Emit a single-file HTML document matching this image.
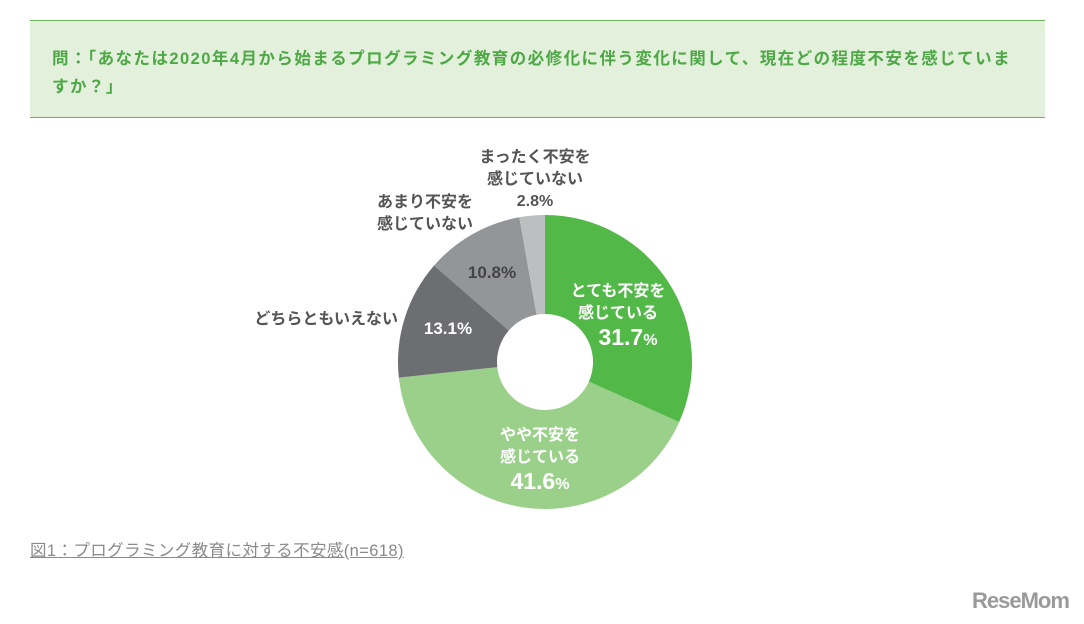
<!DOCTYPE html>
<html><head><meta charset="utf-8">
<style>
body{margin:0;width:1084px;height:624px;background:#fff;overflow:hidden;position:relative;font-family:"Liberation Sans","Noto Sans CJK JP",sans-serif;}
#hdr{position:absolute;left:30px;top:20px;width:1015px;height:96px;background:#e2f0dc;border-top:1px solid #6cb35f;border-bottom:1px solid #6cb35f;}
#q{position:absolute;left:22px;top:24px;width:990px;color:#4ea845;font-weight:bold;font-size:16.5px;letter-spacing:1.45px;line-height:28px;white-space:nowrap;}
#cap{position:absolute;left:30px;top:537px;color:#8a8a8a;font-size:16.5px;letter-spacing:0.4px;text-decoration:underline;}
#logo{position:absolute;left:972px;top:588px;color:#9a9a9a;font-weight:bold;font-size:22px;letter-spacing:-1px;}
svg{position:absolute;left:0;top:0}
</style></head><body>
<div id="hdr"><div id="q">問：「あなたは2020年4月から始まるプログラミング教育の必修化に伴う変化に関して、現在どの程度不安を感じていま<br>すか？」</div></div>
<svg id="chart" width="1084" height="624"></svg>
<div id="cap">図1：プログラミング教育に対する不安感(n=618)</div>
<div id="logo">ReseMom</div>
<script>
const categories=["とても不安を感じている","やや不安を感じている","どちらともいえない","あまり不安を感じていない","まったく不安を感じていない"];
const values=[31.7,41.6,13.1,10.8,2.8];
const colors=["#52b848","#9bd08b","#6d6e71","#939598","#bcbec0"];
const cx=545,cy=362,R=147,r=48;
const svg=document.getElementById('chart');
const NS='http://www.w3.org/2000/svg';
const total=values.reduce((a,b)=>a+b,0);
function pt(a,rad){return [cx+rad*Math.sin(a),cy-rad*Math.cos(a)];}
let acc=0;
values.forEach((v,i)=>{
  const a0=acc/total*2*Math.PI; acc+=v; const a1=acc/total*2*Math.PI;
  const lg=(a1-a0)>Math.PI?1:0;
  const p0=pt(a0,R),p1=pt(a1,R),q1=pt(a1,r),q0=pt(a0,r);
  const p=document.createElementNS(NS,'path');
  p.setAttribute('d',`M${p0}A${R},${R} 0 ${lg} 1 ${p1}L${q1}A${r},${r} 0 ${lg} 0 ${q0}Z`);
  p.setAttribute('fill',colors[i]);
  
  
  svg.appendChild(p);
});
function txt(x,y,s,size,fill,anchor){
  const t=document.createElementNS(NS,'text');
  t.setAttribute('x',x);t.setAttribute('y',y);t.setAttribute('font-size',size);
  t.setAttribute('fill',fill);t.setAttribute('font-weight','bold');
  t.setAttribute('text-anchor',anchor||'middle');t.textContent=s;
  
  
  svg.appendChild(t);return t;
}
function pct(x,y,i,size,fill){
  const t=txt(x,y,values[i].toFixed(1),size,fill);
  const ts=document.createElementNS(NS,'tspan');ts.setAttribute('font-size',size*0.7);ts.textContent='%';t.appendChild(ts);
}
const W='#fff',G='#555';
txt(618,296,'とても不安を',16,W);txt(618,318,'感じている',16,W);pct(628,345,0,23,W);
txt(540,440,'やや不安を',16,W);txt(540,462,'感じている',16,W);pct(540,489,1,23,W);
txt(448,334,values[2].toFixed(1)+'%',17,W);
txt(492,278,values[3].toFixed(1)+'%',17,'#444');
txt(398,324,'どちらともいえない',16,G,'end');
txt(425,207,'あまり不安を',16,G);txt(425,229,'感じていない',16,G);
txt(535,162,'まったく不安を',16,G);txt(535,184,'感じていない',16,G);txt(535,206,values[4].toFixed(1)+'%',16,G);
</script>
</body></html>
